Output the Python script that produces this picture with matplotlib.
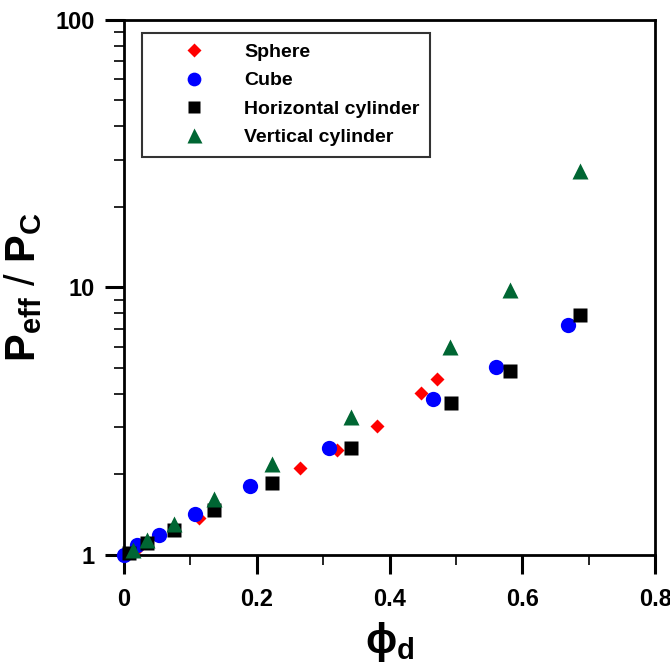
import numpy as np
import matplotlib
matplotlib.use("Agg")
import matplotlib.pyplot as plt
from matplotlib.ticker import LogLocator, FixedLocator, NullFormatter

plt.rcParams['font.family'] = ['Liberation Sans', 'DejaVu Sans']
plt.rcParams['font.weight'] = 'bold'
plt.rcParams['mathtext.fontset'] = 'custom'
plt.rcParams['mathtext.rm'] = 'Liberation Sans:bold'
plt.rcParams['mathtext.it'] = 'Liberation Sans'
plt.rcParams['mathtext.bf'] = 'Liberation Sans:bold'

# data
sphere_x = [0.005, 0.02, 0.113, 0.265, 0.321, 0.381, 0.447, 0.471]
sphere_y = [1.01, 1.05, 1.37, 2.11, 2.47, 3.04, 4.03, 4.56]

cube_x = [0.0, 0.019, 0.053, 0.107, 0.190, 0.308, 0.465, 0.560, 0.668]
cube_y = [1.0, 1.09, 1.19, 1.42, 1.81, 2.51, 3.83, 5.05, 7.21]

hcyl_x = [0.008, 0.034, 0.075, 0.136, 0.223, 0.342, 0.492, 0.582, 0.686]
hcyl_y = [1.02, 1.11, 1.24, 1.47, 1.86, 2.51, 3.70, 4.89, 7.88]

vcyl_x = [0.014, 0.034, 0.075, 0.136, 0.223, 0.342, 0.491, 0.582, 0.686]
vcyl_y = [1.04, 1.135, 1.31, 1.62, 2.18, 3.27, 6.0, 9.76, 27.2]

fig = plt.figure(figsize=(6.7, 6.63), dpi=100)
ax = fig.add_axes([0.185, 0.163, 0.793, 0.807])

ax.plot(sphere_x, sphere_y, 'D', color='#ff0000', ms=7.5, mec='none', label='Sphere', zorder=3, clip_on=False)
ax.plot(cube_x, cube_y, 'o', color='#0000ff', ms=11, mec='none', label='Cube', zorder=3, clip_on=False)
ax.plot(hcyl_x, hcyl_y, 's', color='black', ms=10, mec='none', label='Horizontal cylinder', zorder=3, clip_on=False)
ax.plot(vcyl_x, vcyl_y, '^', color='#006633', ms=12, mec='none', label='Vertical cylinder', zorder=3, clip_on=False)

ax.set_yscale('log')
ax.set_xlim(0, 0.8)
ax.set_ylim(1, 100)
ax.set_xticks([0, 0.2, 0.4, 0.6, 0.8])
ax.set_xticklabels(['0', '0.2', '0.4', '0.6', '0.8'])
ax.xaxis.set_minor_locator(FixedLocator([0.1, 0.3, 0.5, 0.7]))
ax.set_yticks([1, 10, 100])
ax.set_yticklabels(['1', '10', '100'])
ax.yaxis.set_minor_locator(LogLocator(base=10, subs=np.arange(2, 10)))
ax.yaxis.set_minor_formatter(NullFormatter())

for s in ax.spines.values():
    s.set_linewidth(2)
ax.tick_params(which='both', direction='out', labelsize=17, top=False, right=False)
ax.tick_params(which='major', length=14, width=2.2, pad=7)
ax.tick_params(axis='x', which='major', pad=10)
ax.tick_params(which='minor', length=7, width=1.2)
for lab in ax.get_xticklabels() + ax.get_yticklabels():
    lab.set_fontweight('bold')

ax.set_ylabel(r'$\mathbf{P_{eff}}$ / $\mathbf{P_C}$', fontsize=30, labelpad=8)
ax.set_xlabel(r'$\phi_\mathbf{d}$', fontsize=30, labelpad=6)

leg = ax.legend(loc='upper left', bbox_to_anchor=(0.034, 0.976), frameon=True, fancybox=False,
                edgecolor='black', fontsize=14, handletextpad=0.5, borderpad=0.55,
                labelspacing=0.55, handlelength=4.2, markerscale=0.9, borderaxespad=0)
leg.get_frame().set_linewidth(1.5)
for t in leg.get_texts():
    t.set_fontweight('bold')

fig.savefig('out.png', dpi=100)
